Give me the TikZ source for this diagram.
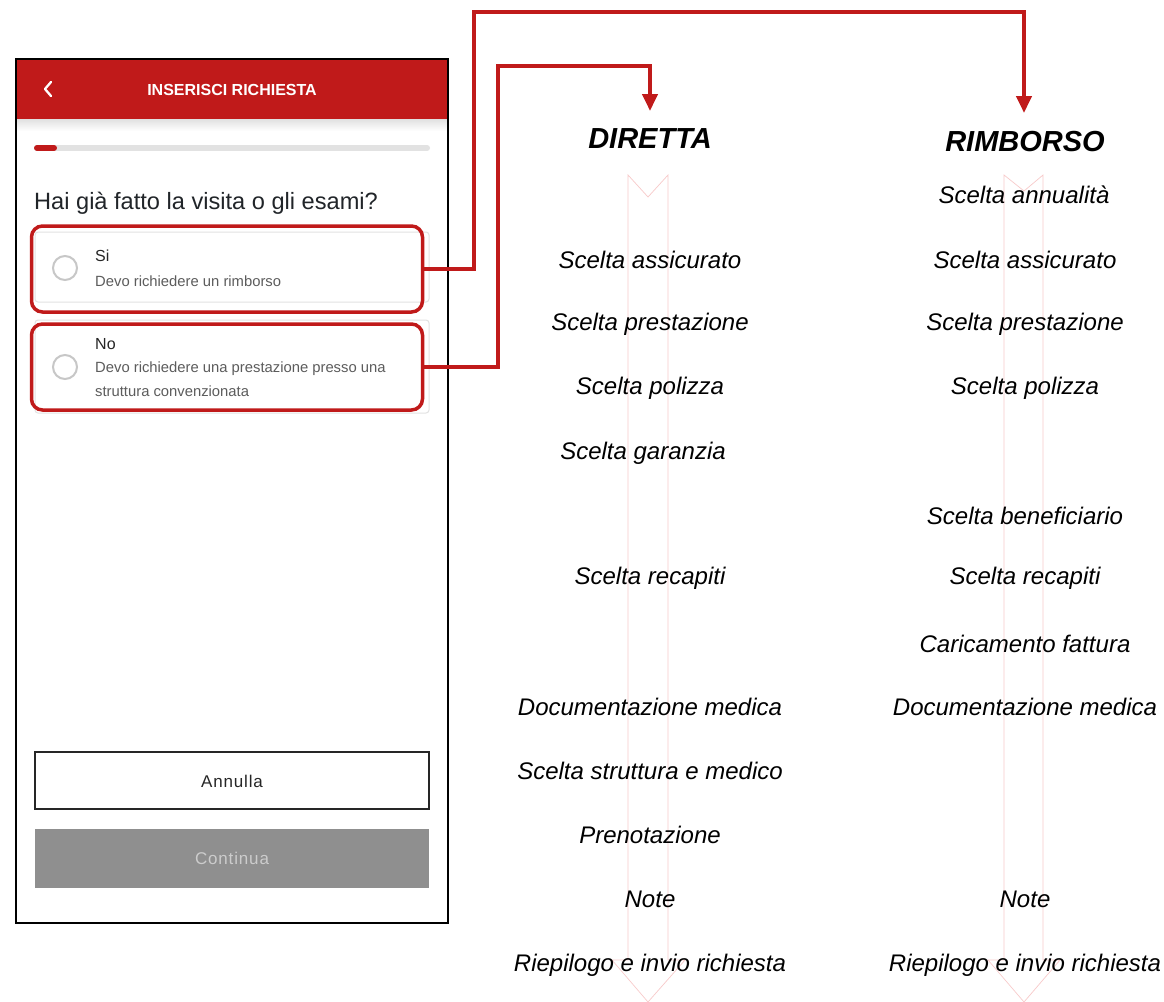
\documentclass[tikz,border=0pt]{standalone}
\usepackage{fontspec}
\setmainfont{Liberation Sans}
\usetikzlibrary{arrows.meta}
\definecolor{appred}{HTML}{C01A1A}
\definecolor{pinkln}{HTML}{F8CACA}
\definecolor{cardgray}{HTML}{E2E2E2}
\definecolor{txtdark}{HTML}{212529}
\definecolor{txtgray}{HTML}{5C5C5C}
\tikzset{
  stp/.style={inner sep=0pt, anchor=center, font=\itshape\fontsize{24}{28}\selectfont},
  colhead/.style={inner sep=0pt, anchor=center, font=\bfseries\itshape\fontsize{29}{33}\selectfont},
  pinkarrow/.style={draw=pinkln, line width=0.7pt, line join=miter},
  conn/.style={draw=appred, line width=4pt, -{Triangle[width=15pt,length=17pt]}},
  optbox/.style={draw=appred, line width=3.5pt, rounded corners=11pt, inner sep=0pt},
  card/.style={draw=cardgray, line width=1pt, rounded corners=3pt},
  radio/.style={draw=black!22, line width=2pt, circle, minimum size=24pt, inner sep=0pt},
}
\begin{document}
\begin{tikzpicture}[x=1pt,y=-1pt]
\useasboundingbox (0,0) rectangle (1164,1001);
\fill[white] (0,0) rectangle (1164,1001);

% ---------- pink flow arrows ----------
\draw[pinkarrow] (628,175) -- (648,197) -- (668,175) -- (668,960) -- (685,960) -- (648,1002) -- (612,960) -- (628,960) -- cycle;
\draw[pinkarrow] (1004,175) -- (1024,191) -- (1043,175) -- (1043,960) -- (1060,960) -- (1024,1002) -- (988,960) -- (1004,960) -- cycle;

% ---------- phone frame ----------
\fill[appred] (16,59) rectangle (448,119);
\shade[top color=black!12, bottom color=white] (17,119) rectangle (447,131);
\draw[black, line width=2pt] (16,59) rectangle (448,923);
\draw[white, line width=2.3pt, line cap=round, line join=round] (51,82) -- (45,89) -- (51,96);
\node[text=white, font=\bfseries\fontsize{16}{19}\selectfont, inner sep=0pt] (title) at (232,90) {INSERISCI RICHIESTA};

% progress bar
\draw[cardgray, line width=6pt, line cap=round] (37,148) -- (427,148);
\draw[appred, line width=6pt, line cap=round] (37,148) -- (54,148);

\node[anchor=west, inner sep=0pt, text=txtdark, font=\fontsize{23.6}{27}\selectfont] (quest) at (34,203) {Hai già fatto la visita o gli esami?};

% option cards
\draw[card] (35,232) rectangle (429,302);
\draw[card] (35,320) rectangle (429,413);
\node[optbox, minimum width=391pt, minimum height=86pt] (si) at (227,269) {};
\node[optbox, minimum width=391pt, minimum height=86pt] (no) at (227,367) {};
\node[radio] (r1) at (65,268) {};
\node[radio] (r2) at (65,367) {};
\node[anchor=west, inner sep=0pt, text=black!85, font=\fontsize{16}{19}\selectfont] (sit) at (95,256) {Si};
\node[anchor=west, inner sep=0pt, text=txtgray, font=\fontsize{14.8}{17}\selectfont] (sid) at (95,281) {Devo richiedere un rimborso};
\node[anchor=west, inner sep=0pt, text=black!85, font=\fontsize{16}{19}\selectfont] (not) at (95,344) {No};
\node[anchor=west, inner sep=0pt, text=txtgray, font=\fontsize{14.8}{17}\selectfont] (nod1) at (95,369) {Devo richiedere una prestazione presso una};
\node[anchor=west, inner sep=0pt, text=txtgray, font=\fontsize{14.8}{17}\selectfont] (nod2) at (95,391) {struttura convenzionata};

% buttons
\draw[black!85, line width=2.5pt] (35,752) rectangle (429,809);
\node[inner sep=0pt, text=black!85, font=\fontsize{17}{20}\selectfont] (annulla) at (232,781) {\addfontfeature{LetterSpace=5}Annulla};
\fill[black!44] (35,829) rectangle (429,888);
\node[inner sep=0pt, text=black!20, font=\fontsize{17}{20}\selectfont] (continua) at (232,858) {\addfontfeature{LetterSpace=5}Continua};

% ---------- columns ----------
\node[colhead] (dir) at (650,139) {DIRETTA};
\node[colhead] (rimb) at (1025,142) {RIMBORSO};
\coordinate (dtip) at (650,111);
\coordinate (rtip) at (1024,113);

\node[stp] (d1) at (650,260) {Scelta assicurato};
\node[stp] (d2) at (650,324) {Scelta prestazione};
\node[stp] (d3) at (650,388) {Scelta polizza};
\node[stp] (d4) at (643,453) {Scelta garanzia};
\node[stp] (d5) at (650,578) {Scelta recapiti};
\node[stp] (d6) at (650,707) {Documentazione medica};
\node[stp] (d7) at (650,771) {Scelta struttura e medico};
\node[stp] (d8) at (650,835) {Prenotazione};
\node[stp] (d9) at (650,899) {Note};
\node[stp] (d10) at (650,965) {Riepilogo e invio richiesta};

\node[stp] (r0) at (1024,195) {Scelta annualità};
\node[stp] (r1t) at (1025,260) {Scelta assicurato};
\node[stp] (r2t) at (1025,324) {Scelta prestazione};
\node[stp] (r3) at (1025,388) {Scelta polizza};
\node[stp] (r4) at (1025,516) {Scelta beneficiario};
\node[stp] (r5) at (1025,578) {Scelta recapiti};
\node[stp] (r6) at (1025,644) {Caricamento fattura};
\node[stp] (r7) at (1025,707) {Documentazione medica};
\node[stp] (r8) at (1025,899) {Note};
\node[stp] (r9) at (1025,965) {Riepilogo e invio richiesta};

% ---------- connectors ----------
\draw[conn] (si.east) -| (474,12) -| (rtip);
\draw[conn] (no.east) -| (498,66) -| (dtip);
\end{tikzpicture}
\end{document}
